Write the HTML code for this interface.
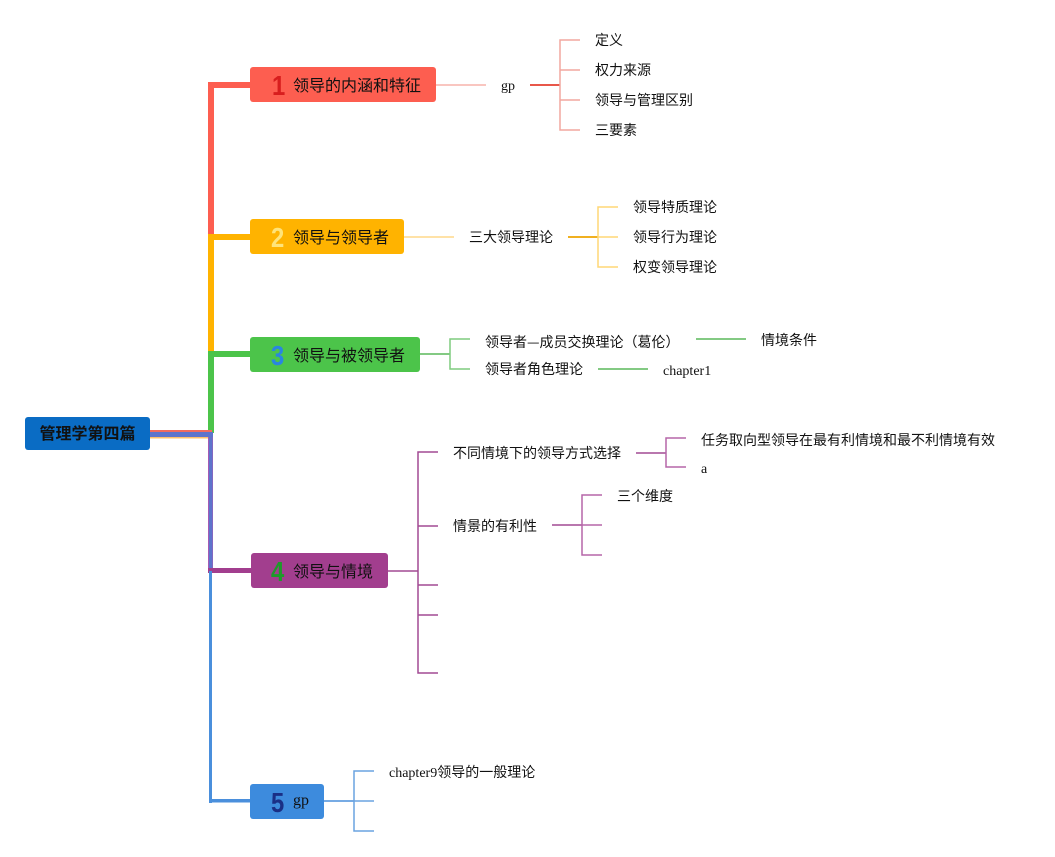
<!DOCTYPE html>
<html><head><meta charset="utf-8">
<style>
html,body{margin:0;padding:0;background:#fff;}
body{width:1055px;height:857px;position:relative;overflow:hidden;}
.n{position:absolute;border-radius:3px;}
.t{position:absolute;white-space:nowrap;font-family:"Liberation Sans","Noto Sans CJK SC",sans-serif;font-size:16px;line-height:20px;color:#111;}
.num{position:absolute;white-space:nowrap;font-family:"Liberation Sans","DejaVu Sans",sans-serif;font-weight:bold;font-size:28px;line-height:30px;transform:scaleX(0.85);transform-origin:left center;}
.l{position:absolute;white-space:nowrap;font-family:"Liberation Serif","Noto Sans CJK SC",sans-serif;font-size:14px;line-height:20px;color:#111;}
.cj{font-family:"Noto Sans CJK SC",sans-serif;}
</style></head><body>
<svg width="1055" height="857" style="position:absolute;left:0;top:0" xmlns="http://www.w3.org/2000/svg">
<rect x="208" y="82" width="6" height="154" fill="#fd5e50"/>
<rect x="208" y="82" width="42" height="6" fill="#fd5e50"/>
<rect x="208" y="234" width="6" height="120" fill="#ffb300"/>
<rect x="208" y="234" width="42" height="6" fill="#ffb300"/>
<rect x="208" y="351" width="6" height="82" fill="#4cc44a"/>
<rect x="208" y="351" width="42" height="6" fill="#4cc44a"/>
<rect x="150" y="430" width="62" height="2" fill="#f26b5f"/>
<rect x="150" y="437" width="62" height="1.5" fill="#ffc06a"/>
<rect x="208" y="432" width="5" height="141" fill="#a55ab4"/>
<rect x="150" y="432" width="63" height="5" fill="#5e74cc"/>
<rect x="209" y="432" width="3.5" height="141" fill="#5e74cc"/>
<rect x="208" y="568" width="43" height="5" fill="#a23e8e"/>
<rect x="209" y="571" width="3" height="232" fill="#4a8fdc"/>
<rect x="209" y="799" width="41" height="3.5" fill="#4a8fdc"/>
<g fill="none" stroke-width="1.5">
<line x1="436" y1="85" x2="486" y2="85" stroke="#f7b3ab"/>
<line x1="530" y1="85" x2="560" y2="85" stroke="#e8574a" stroke-width="2"/>
<path d="M580 40 H560 V130 H580 M560 70 H580 M560 100 H580" stroke="#f2a79f"/>
<line x1="404" y1="237" x2="454" y2="237" stroke="#ffd98a"/>
<line x1="568" y1="237" x2="598" y2="237" stroke="#f0b020" stroke-width="2"/>
<path d="M618 207 H598 V267 H618 M598 237 H618" stroke="#ffd777"/>
<line x1="420" y1="354" x2="450" y2="354" stroke="#5ab85a"/>
<path d="M470 339 H450 V369 H470" stroke="#7fcc7f"/>
<line x1="696" y1="339" x2="746" y2="339" stroke="#5ab85a"/>
<line x1="598" y1="369" x2="648" y2="369" stroke="#5ab85a"/>
<line x1="388" y1="571" x2="418" y2="571" stroke="#a24a93"/>
<path d="M438 452 H418 V673 H438 M418 526 H438 M418 585 H438 M418 615 H438" stroke="#a24a93"/>
<line x1="636" y1="453" x2="666" y2="453" stroke="#a24a93"/>
<path d="M686 438 H666 V467 H686" stroke="#b567a8"/>
<line x1="552" y1="525" x2="582" y2="525" stroke="#a24a93"/>
<path d="M602 495 H582 V555 H602 M582 525 H602" stroke="#b567a8"/>
<line x1="324" y1="801" x2="354" y2="801" stroke="#4a8fdc"/>
<path d="M374 771 H354 V831 H374 M354 801 H374" stroke="#6aa3e0"/>
</g>
</svg>

<div class="n" style="left:25px;top:417px;width:125px;height:33px;background:#0a6cc4;"></div>
<div class="t" style="left:25px;top:425px;width:125px;text-align:center;font-weight:bold;color:#111;">管理学第四篇</div>

<div class="n" style="left:250px;top:67px;width:186px;height:35px;background:#fd5e50;"></div>
<div class="num" style="left:272px;top:71px;color:#d81e1e;">1</div>
<div class="t" style="left:293px;top:77px;">领导的内涵和特征</div>

<div class="n" style="left:250px;top:219px;width:154px;height:35px;background:#ffb300;"></div>
<div class="num" style="left:271px;top:223px;color:#ffe47a;">2</div>
<div class="t" style="left:293px;top:229px;">领导与领导者</div>

<div class="n" style="left:250px;top:337px;width:170px;height:35px;background:#4cc44a;"></div>
<div class="num" style="left:271px;top:341px;color:#2a86e0;">3</div>
<div class="t" style="left:293px;top:347px;">领导与被领导者</div>

<div class="n" style="left:251px;top:553px;width:137px;height:35px;background:#a23e8e;"></div>
<div class="num" style="left:271px;top:557px;color:#1e9a2a;">4</div>
<div class="t" style="left:293px;top:563px;">领导与情境</div>

<div class="n" style="left:250px;top:784px;width:74px;height:35px;background:#3d8bdd;"></div>
<div class="num" style="left:271px;top:788px;color:#1a2f86;">5</div>
<div class="t" style="left:293px;top:791px;font-family:'Liberation Serif',serif;">gp</div>

<div class="l" style="left:501px;top:77px;">gp</div>
<div class="l" style="left:595px;top:32px;">定义</div>
<div class="l" style="left:595px;top:62px;">权力来源</div>
<div class="l" style="left:595px;top:92px;">领导与管理区别</div>
<div class="l" style="left:595px;top:122px;">三要素</div>

<div class="l" style="left:469px;top:229px;">三大领导理论</div>
<div class="l" style="left:633px;top:199px;">领导特质理论</div>
<div class="l" style="left:633px;top:229px;">领导行为理论</div>
<div class="l" style="left:633px;top:259px;">权变领导理论</div>

<div class="l" style="left:485px;top:332px;">领导者<span class="cj">—</span>成员交换理论（葛伦）</div>
<div class="l" style="left:485px;top:361px;">领导者角色理论</div>
<div class="l" style="left:761px;top:332px;">情境条件</div>
<div class="l" style="left:663px;top:362px;">chapter1</div>

<div class="l" style="left:453px;top:445px;">不同情境下的领导方式选择</div>
<div class="l" style="left:453px;top:518px;">情景的有利性</div>
<div class="l" style="left:701px;top:432px;">任务取向型领导在最有利情境和最不利情境有效</div>
<div class="l" style="left:701px;top:460px;">a</div>
<div class="l" style="left:617px;top:488px;">三个维度</div>

<div class="l" style="left:389px;top:764px;">chapter9领导的一般理论</div>
</body></html>
